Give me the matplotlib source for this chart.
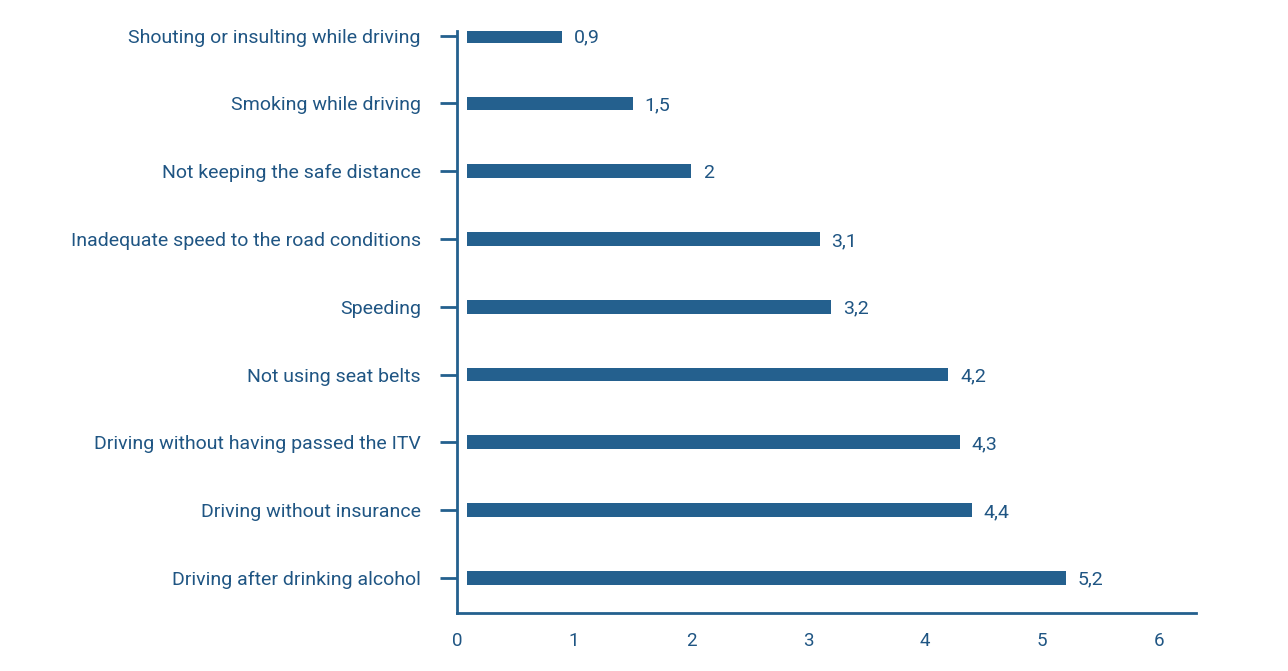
import matplotlib.pyplot as plt
import numpy as np

plt.rcParams['font.family'] = ['Roboto', 'DejaVu Sans']

# categories from bottom to top
categories = ['Driving after drinking alcohol', 'Driving without insurance',
              'Driving without having passed the ITV', 'Not using seat belts',
              'Speeding', 'Inadequate speed to the road conditions',
              'Not keeping the safe distance', 'Smoking while driving',
              'Shouting or insulting while driving']
values = [5.2, 4.4, 4.3, 4.2, 3.2, 3.1, 2.0, 1.5, 0.9]
value_labels = ['5,2', '4,4', '4,3', '4,2', '3,2', '3,1', '2', '1,5', '0,9']
xticks = [0, 1, 2, 3, 4, 5, 6]

blue = '#24608e'
text_blue = '#1f5583'

fig = plt.figure(figsize=(12.88, 6.71), dpi=100)
ax = fig.add_axes([457 / 1288, 1 - 613 / 671, (1196 - 457) / 1288, (613 - 31) / 671])

y = np.arange(len(categories))
start = 0.085
ax.barh(y, [v - start for v in values], left=start, height=0.2, color=blue)

for yi, v, lab in zip(y, values, value_labels):
    ax.text(v + 0.1, yi, lab, va='center_baseline', ha='left', fontsize=14, color=text_blue)

ax.set_xlim(0.025, 6.315)
ax.set_ylim(-0.52, 8.07)

ax.set_yticks(y)
ax.set_yticklabels(categories, fontsize=14, color=text_blue)
ax.tick_params(axis='y', length=12, width=2, color=blue, pad=14)
ax.set_xticks(xticks)
ax.set_xticklabels([str(t) for t in xticks], fontsize=13.5, color=text_blue)
ax.tick_params(axis='x', length=0, pad=14)

for s in ['top', 'right']:
    ax.spines[s].set_visible(False)
for s in ['left', 'bottom']:
    ax.spines[s].set_color(blue)
    ax.spines[s].set_linewidth(2)

plt.savefig('out.png', dpi=100)
